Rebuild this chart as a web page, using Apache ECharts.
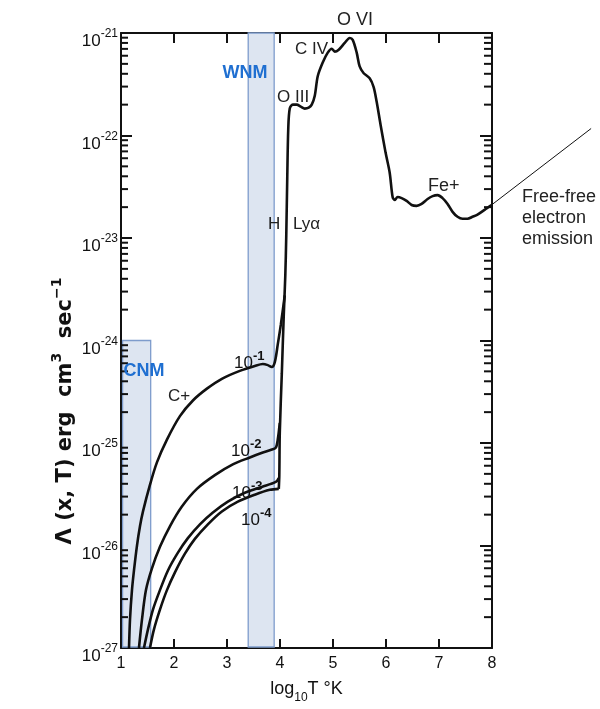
<!DOCTYPE html>
<html>
<head>
<meta charset="utf-8">
<script src="https://cdn.jsdelivr.net/npm/echarts@6/dist/echarts.min.js"></script>
<style>
  html, body { margin: 0; padding: 0; background: #fff; }
  #chart { width: 600px; height: 709px; }
</style>
</head>
<body>
<div id="chart"></div>
<script>
// Radiative cooling function Λ(x,T) against log10 T, for ionisation fractions x = 1e-1 … 1e-4

// High-temperature branch shared by every ionisation fraction (H Lyα rise onwards)
const hotLogT = [3.977, 3.987, 3.996, 4.034, 4.071, 4.100, 4.118, 4.137, 4.156, 4.184, 4.241, 4.316, 4.392, 4.467,
  4.542, 4.599, 4.656, 4.712, 4.806, 4.901, 4.976, 5.033, 5.108, 5.221, 5.315, 5.372, 5.447, 5.503, 5.579, 5.692,
  5.767, 5.824, 5.899, 5.993, 6.069, 6.125, 6.163, 6.220, 6.295, 6.389, 6.483, 6.578, 6.672, 6.785, 6.879, 6.973,
  7.067, 7.162, 7.256, 7.350, 7.444, 7.538, 7.633, 7.727, 7.859, 7.991];
const hotLambda = [3.57e-26, 4.86e-26, 1.26e-25, 4.72e-25, 1.77e-24, 4.30e-24, 1.04e-23, 3.90e-23, 1.17e-22, 1.83e-22,
  2.00e-22, 2.00e-22, 1.91e-22, 1.83e-22, 1.87e-22, 2.00e-22, 2.44e-22, 3.79e-22, 5.15e-22, 6.43e-22, 7.03e-22,
  6.58e-22, 6.87e-22, 8.01e-22, 8.95e-22, 8.57e-22, 6.43e-22, 4.72e-22, 4.05e-22, 3.62e-22, 2.97e-22, 2.13e-22,
  1.26e-22, 6.77e-23, 4.36e-23, 2.51e-23, 2.35e-23, 2.51e-23, 2.45e-23, 2.30e-23, 2.10e-23, 2.06e-23, 2.15e-23,
  2.40e-23, 2.56e-23, 2.62e-23, 2.45e-23, 2.15e-23, 1.80e-23, 1.61e-23, 1.54e-23, 1.54e-23, 1.61e-23, 1.69e-23,
  1.88e-23, 2.10e-23];

// Low-temperature branches, one per ionisation fraction
const x1LogT = [1.151, 1.170, 1.207, 1.245, 1.301, 1.358, 1.415, 1.546, 1.678, 1.867, 2.112, 2.357, 2.621, 2.903,
  3.242, 3.525, 3.676, 3.770, 3.845, 3.902, 3.958, 4.015, 4.090];
const x1Lambda = [1.0e-27, 1.90e-27, 3.67e-27, 5.71e-27, 9.93e-27, 1.54e-26, 2.15e-26, 3.90e-26, 6.47e-26, 1.08e-25,
  1.83e-25, 2.60e-25, 3.39e-25, 4.23e-25, 5.05e-25, 5.64e-25, 5.89e-25, 5.75e-25, 5.51e-25, 6.15e-25, 9.16e-25,
  1.42e-24, 2.76e-24];

const x2LogT = [1.339, 1.396, 1.471, 1.584, 1.735, 1.923, 2.149, 2.432, 2.771, 3.110, 3.431, 3.676, 3.845, 3.921,
  3.958, 3.996];
const x2Lambda = [1.0e-27, 1.90e-27, 3.67e-27, 5.97e-27, 9.70e-27, 1.54e-26, 2.40e-26, 3.57e-26, 4.86e-26, 6.19e-26,
  7.23e-26, 8.07e-26, 8.63e-26, 9.02e-26, 1.08e-25, 1.57e-25];

const x3LogT = [1.433, 1.509, 1.603, 1.735, 1.886, 2.074, 2.262, 2.489, 2.734, 3.016, 3.337, 3.657, 3.921, 3.977];
const x3Lambda = [1.0e-27, 1.52e-27, 2.37e-27, 3.67e-27, 5.71e-27, 8.51e-27, 1.18e-26, 1.61e-26, 2.10e-26, 2.68e-26,
  3.27e-26, 3.73e-26, 4.17e-26, 4.55e-26];

const x4LogT = [1.546, 1.622, 1.735, 1.867, 2.018, 2.206, 2.394, 2.639, 2.903, 3.205, 3.525, 3.808, 3.977];
const x4Lambda = [1.0e-27, 1.52e-27, 2.37e-27, 3.67e-27, 5.47e-27, 8.32e-27, 1.16e-26, 1.61e-26, 2.15e-26, 2.68e-26,
  3.13e-26, 3.49e-26, 3.57e-26];

// Free-free (bremsstrahlung) continuation, running past the right edge of the frame
const ffLogT = [7.991, 9.87];
const ffLambda = [2.10e-23, 1.17e-22];

// Phases of the ISM: log T span and upper Λ of each band
const phaseNames = ['CNM', 'WNM'];
const phaseLogTFrom = [1.03, 3.40];
const phaseLogTTo = [1.56, 3.89];
const phaseLambdaTop = [1e-24, 1e-21];

const xTicks = [1, 2, 3, 4, 5, 6, 7, 8];
const yDecades = [-27, -26, -25, -24, -23, -22, -21];

// The log axis runs in units of 1e-27 erg cm^3 s^-1 so the scale stays well inside float range;
// the tick labels put the exponent back.
const UNIT_EXP = -27;
const toUnits = v => v * 1e27;
const zip = (a, b) => a.map((v, i) => [v, toUnits(b[i])]);

// minor log ticks at 2..9 × 10^k (in axis units)
const minorTicks = [];
for (let k = 0; k < yDecades.length - 1; k++) {
  for (let m = 2; m <= 9; m++) minorTicks.push([1, m * Math.pow(10, yDecades[k] - UNIT_EXP)]);
}

const INK = '#111';
const numFont = "'Liberation Sans Narrow', 'Liberation Sans', sans-serif";
const textFont = "'Liberation Sans', Arial, sans-serif";
const Y_MIN = 1, Y_MAX = 1e6;

const chart = echarts.init(document.getElementById('chart'), null, { renderer: 'canvas' });

function curve(name, t, l) {
  return {
    name, type: 'line', data: zip(t, l), showSymbol: false, smooth: 0.3,
    lineStyle: { color: INK, width: 2.6 }, z: 5, silent: true
  };
}

const yAxisBase = {
  type: 'log', logBase: 10, min: Y_MIN, max: Y_MAX,
  splitLine: { show: false },
  axisLine: { show: true, lineStyle: { color: INK, width: 2 } }
};
const xAxisBase = {
  type: 'value', min: 1, max: 8, interval: 1,
  splitLine: { show: false },
  axisLine: { show: true, onZero: false, lineStyle: { color: INK, width: 2 } }
};

const txt = (x, y, text, extra) => ({
  type: 'text', x, y, z: 100,
  style: Object.assign({ text, fontSize: 17, fontFamily: textFont, fill: '#222', verticalAlign: 'middle' }, extra || {})
});

const option = {
  animation: false,
  backgroundColor: '#fff',
  grid: { left: 121, top: 33, width: 371, height: 625, containLabel: false },
  xAxis: [
    Object.assign({}, xAxisBase, {
      position: 'bottom',
      axisTick: { show: true, inside: true, length: 9, lineStyle: { color: INK, width: 2 } },
      axisLabel: { show: true, margin: 8, color: INK, fontSize: 16, fontFamily: numFont,
        formatter: v => xTicks.includes(v) ? String(v) : '' },
      name: '{a|log}{s|10}{a|T °K}',
      nameLocation: 'middle', nameGap: 32,
      nameTextStyle: {
        rich: {
          a: { fontSize: 18, fontFamily: numFont, color: INK, lineHeight: 24, verticalAlign: 'top' },
          s: { fontSize: 12, fontFamily: numFont, color: INK, lineHeight: 24, verticalAlign: 'bottom' }
        }
      }
    }),
    Object.assign({}, xAxisBase, {
      position: 'top',
      axisTick: { show: true, inside: true, length: 10, lineStyle: { color: INK, width: 2 } },
      axisLabel: { show: false }
    })
  ],
  yAxis: [
    Object.assign({}, yAxisBase, {
      position: 'left',
      axisTick: { show: true, inside: true, length: 11, lineStyle: { color: INK, width: 2 } },
      axisLabel: {
        show: true, margin: 3, padding: [12, 0, 0, 0],
        formatter: v => '{b|10}{s|' + (Math.round(Math.log10(v)) + UNIT_EXP) + '}',
        rich: {
          b: { fontSize: 17, fontFamily: numFont, color: INK, lineHeight: 22, verticalAlign: 'bottom' },
          s: { fontSize: 12, fontFamily: numFont, color: INK, lineHeight: 22, verticalAlign: 'top' }
        }
      }
    }),
    Object.assign({}, yAxisBase, {
      position: 'right',
      axisTick: { show: true, inside: true, length: 12, lineStyle: { color: INK, width: 2 } },
      axisLabel: { show: false }
    })
  ],
  series: [
    {
      name: 'phases', type: 'custom', z: 1, silent: true, clip: false,
      data: phaseNames.map((n, i) => [phaseLogTFrom[i], phaseLogTTo[i], toUnits(phaseLambdaTop[i])]),
      renderItem: (params, api) => {
        const p0 = api.coord([api.value(0), api.value(2)]);
        const p1 = api.coord([api.value(1), Y_MIN]);
        return {
          type: 'rect',
          shape: { x: p0[0], y: p0[1], width: p1[0] - p0[0], height: p1[1] - p0[1] - 1 },
          style: { fill: '#dde5f1', stroke: '#7e9ccc', lineWidth: 1.3 }
        };
      }
    },
    {
      name: 'minor ticks', type: 'custom', z: 6, silent: true, clip: false,
      data: minorTicks,
      renderItem: (params, api) => {
        const l = api.coord([1, api.value(1)]);
        const r = api.coord([8, api.value(1)]);
        const st = { stroke: INK, lineWidth: 2 };
        return {
          type: 'group',
          children: [
            { type: 'line', shape: { x1: l[0], y1: l[1], x2: l[0] + 7, y2: l[1] }, style: st },
            { type: 'line', shape: { x1: r[0], y1: r[1], x2: r[0] - 8, y2: r[1] }, style: st }
          ]
        };
      }
    },
    curve('x = 1e-1', x1LogT, x1Lambda),
    curve('x = 1e-2', x2LogT, x2Lambda),
    curve('x = 1e-3', x3LogT, x3Lambda),
    curve('x = 1e-4', x4LogT, x4Lambda),
    curve('hot', hotLogT, hotLambda),
    {
      // straight free-free line; the x scale is extended linearly past log T = 8
      name: 'free-free', type: 'custom', z: 5, silent: true, clip: false,
      data: [[ffLogT[0], toUnits(ffLambda[0]), ffLogT[1], toUnits(ffLambda[1])]],
      renderItem: (params, api) => {
        const p0 = api.coord([api.value(0), api.value(1)]);
        const unit = api.coord([8, api.value(1)])[0] - api.coord([7, api.value(1)])[0];
        const yEnd = api.coord([8, api.value(3)])[1];
        const xEnd = p0[0] + (api.value(2) - api.value(0)) * unit;
        return {
          type: 'line',
          shape: { x1: p0[0], y1: p0[1], x2: xEnd, y2: yEnd },
          style: { stroke: INK, lineWidth: 1 }
        };
      }
    }
  ],
  graphic: {
    elements: [
      // line identifications
      txt(337, 20, 'O VI', { fontSize: 18 }),
      txt(295, 49, 'C IV'),
      txt(277, 97, 'O III'),
      txt(268, 224, 'H'),
      txt(293, 224, 'Lyα'),
      txt(428, 186, 'Fe+', { fontSize: 18 }),
      txt(168, 396, 'C+'),
      txt(522, 187, 'Free-free\nelectron\nemission', { fontSize: 18, lineHeight: 21, verticalAlign: 'top' }),
      // phase labels
      txt(245, 73, 'WNM', { fontSize: 18, fontWeight: 'bold', fill: '#1f6fd1', align: 'center' }),
      txt(144, 371, 'CNM', { fontSize: 18, fontWeight: 'bold', fill: '#1f6fd1', align: 'center' }),
      // ionisation fraction labels
      ...[['-1', 234, 361], ['-2', 231, 449], ['-3', 232, 491], ['-4', 241, 518]].map(([e, x, y]) => ({
        type: 'text', x, y, z: 100,
        style: {
          text: '{b|10}{s|' + e + '}', verticalAlign: 'middle',
          rich: {
            b: { fontSize: 17, fontFamily: numFont, fill: INK, lineHeight: 22, verticalAlign: 'bottom' },
            s: { fontSize: 13, fontFamily: numFont, fontWeight: 'bold', fill: INK, lineHeight: 22, verticalAlign: 'top' }
          }
        }
      })),
      // vertical axis title
      {
        type: 'text', x: 63, y: 411, z: 100, rotation: Math.PI / 2,
        style: {
          text: '{b|Λ (x, T) erg  cm}{s|3}{b|  sec}{s|−1}', align: 'center', verticalAlign: 'middle',
          rich: {
            b: { fontSize: 21, fontWeight: 'bold', fontFamily: "'DejaVu Sans', sans-serif", fill: INK, lineHeight: 26, verticalAlign: 'bottom' },
            s: { fontSize: 14, fontWeight: 'bold', fontFamily: "'DejaVu Sans', sans-serif", fill: INK, lineHeight: 26, verticalAlign: 'top' }
          }
        }
      }
    ]
  }
};

chart.setOption(option);
</script>
</body>
</html>
